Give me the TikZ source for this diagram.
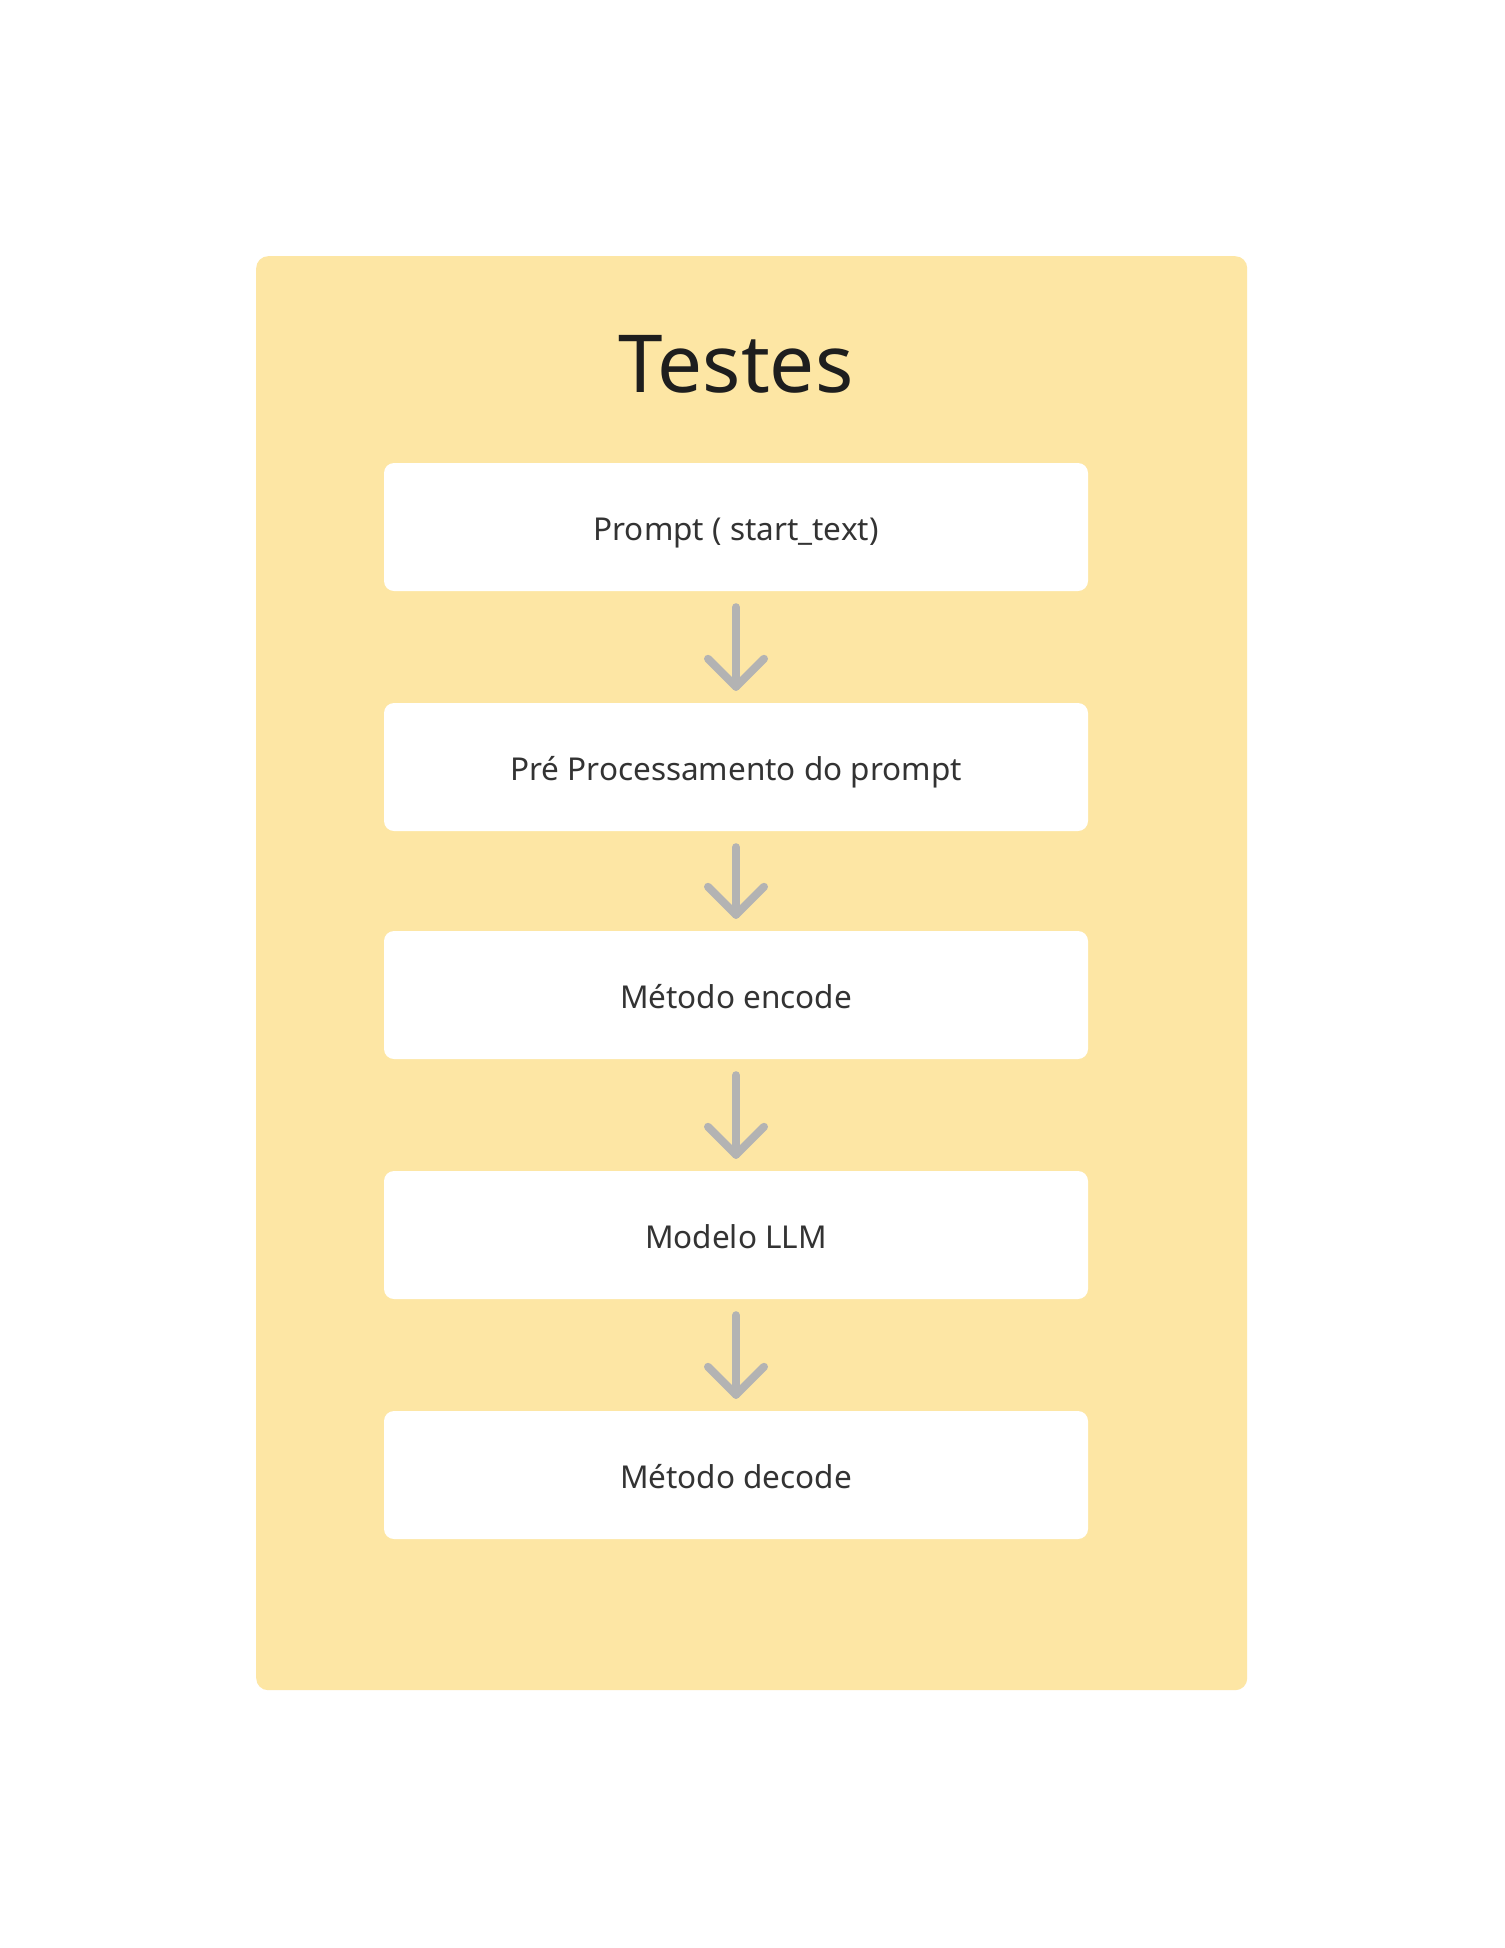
\documentclass[tikz,border=0pt]{standalone}
\usepackage{fontspec}
\setmainfont{Noto Sans}
\definecolor{panelyellow}{RGB}{253,230,164}
\definecolor{arrowgray}{RGB}{179,179,179}
\definecolor{titlecol}{RGB}{30,30,30}
\definecolor{textcol}{RGB}{51,51,51}
\tikzset{
  stepbox/.style={fill=white, draw=none, rounded corners=10pt, minimum width=704pt, minimum height=128pt, inner sep=0pt, text height=30pt, text depth=4pt, font=\fontsize{31.5}{36}\selectfont, text=textcol},
  flowarrow/.style={draw=arrowgray, line width=8pt, line cap=round, line join=round}
}
\begin{document}
\begin{tikzpicture}[x=1pt,y=-1pt]
\useasboundingbox[fill=white] (0,0) rectangle (1504,1948);
\node[fill=panelyellow, rounded corners=12pt, minimum width=991pt, minimum height=1434pt, inner sep=0pt, anchor=north west] (panel) at (256,256) {};
\node[font=\fontsize{80}{90}\selectfont, text=titlecol] (title) at (736,364) {Testes};
\node[stepbox] (b1) at (736,527) {Prompt ( start\_text)};
\node[stepbox] (b2) at (736,767) {Pré Processamento do prompt};
\node[stepbox] (b3) at (736,995) {Método encode};
\node[stepbox] (b4) at (736,1235) {Modelo LLM};
\node[stepbox] (b5) at (736,1475) {Método decode};
\foreach \a/\b in {b1/b2,b2/b3,b3/b4,b4/b5}{
  \coordinate (s) at ([yshift=-16pt]\a.south);
  \coordinate (t) at ([yshift=16pt]\b.north);
  \draw[flowarrow] (s) -- (t);
  \draw[flowarrow] ([xshift=-28pt,yshift=28pt]t) -- (t) -- ([xshift=28pt,yshift=28pt]t);
}
\end{tikzpicture}
\end{document}
